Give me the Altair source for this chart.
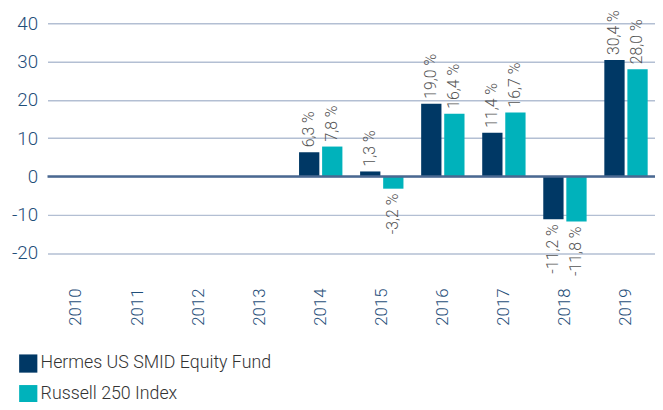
import altair as alt
import pandas as pd

years = [str(y) for y in range(2010, 2020)]
fund = [None, None, None, None, 6.3, 1.3, 19.0, 11.4, -11.2, 30.4]
index = [None, None, None, None, 7.8, -3.2, 16.4, 16.7, -11.8, 28.0]
series = ["Hermes US SMID Equity Fund", "Russell 250 Index"]
colors = ["#003865", "#00b2bb"]

rows = []
for i, y in enumerate(years):
    for s, vals in zip(series, [fund, index]):
        v = vals[i]
        rows.append({"year": y, "series": s, "value": v,
                     "label": (f"{v:.1f} %".replace(".", ",") if v is not None else "")})
df = pd.DataFrame(rows)

FONT = "Roboto"
x = alt.X("year:N", sort=years, title=None,
          scale=alt.Scale(domain=years, paddingInner=0.29, paddingOuter=0.12),
          axis=alt.Axis(labelAngle=-90, labelColor="#1f4e79", labelFontSize=17,
                        labelFont=FONT, labelFontWeight=300, ticks=False, domain=False,
                        labelPadding=16, labelBaseline="middle", labelAlign="right"))
xo = alt.XOffset("series:N", sort=series, scale=alt.Scale(domain=series, paddingInner=0.12))
y = alt.Y("value:Q", title=None,
          scale=alt.Scale(domain=[-25, 40], nice=False, zero=True),
          axis=alt.Axis(values=[-20, -10, 0, 10, 20, 30, 40], labelColor="#1f4e79",
                        labelFontSize=19, labelFont=FONT, labelFontWeight=300,
                        ticks=False, domain=False, gridColor="#b3bfd3", gridWidth=1.5,
                        labelPadding=10, labelExpr="toString(datum.value)"))

base = alt.Chart(df)
bars = base.mark_bar().encode(
    x=x, xOffset=xo, y=y,
    color=alt.Color("series:N", sort=series,
                    scale=alt.Scale(domain=series, range=colors),
                    legend=alt.Legend(title=None, orient="none", legendX=-29, legendY=335,
                                      symbolType="square", symbolSize=340,
                                      symbolStrokeWidth=0, labelFontSize=18,
                                      labelFont=FONT, labelFontWeight=300,
                                      labelColor="#333333", rowPadding=12,
                                      labelOffset=3, labelLimit=400,
                                      direction="vertical"))
).transform_filter("datum.value != null")

zero = alt.Chart(pd.DataFrame({"z": [0]})).mark_rule(color="#4a6891", strokeWidth=2.5).encode(y="z:Q")

pos = base.transform_filter("datum.value != null && datum.value >= 0").mark_text(
    angle=270, align="left", baseline="middle", dx=5, fontSize=16, font=FONT,
    fontWeight=300, color="#555555").encode(x=x, xOffset=xo, y=y, text="label:N")
neg = base.transform_filter("datum.value != null && datum.value < 0").mark_text(
    angle=270, align="right", baseline="middle", dx=-5, fontSize=16, font=FONT,
    fontWeight=300, color="#555555").encode(x=x, xOffset=xo, y=y, text="label:N")

chart = alt.layer(bars, zero, pos, neg).properties(
    width=615, height=252,
    padding={"left": 40, "top": 13, "right": 0, "bottom": 129},
    autosize=alt.AutoSizeParams(type="none"),
).configure_view(stroke=None)

chart.save("out.html", embed_options={"renderer": "svg", "actions": False})
